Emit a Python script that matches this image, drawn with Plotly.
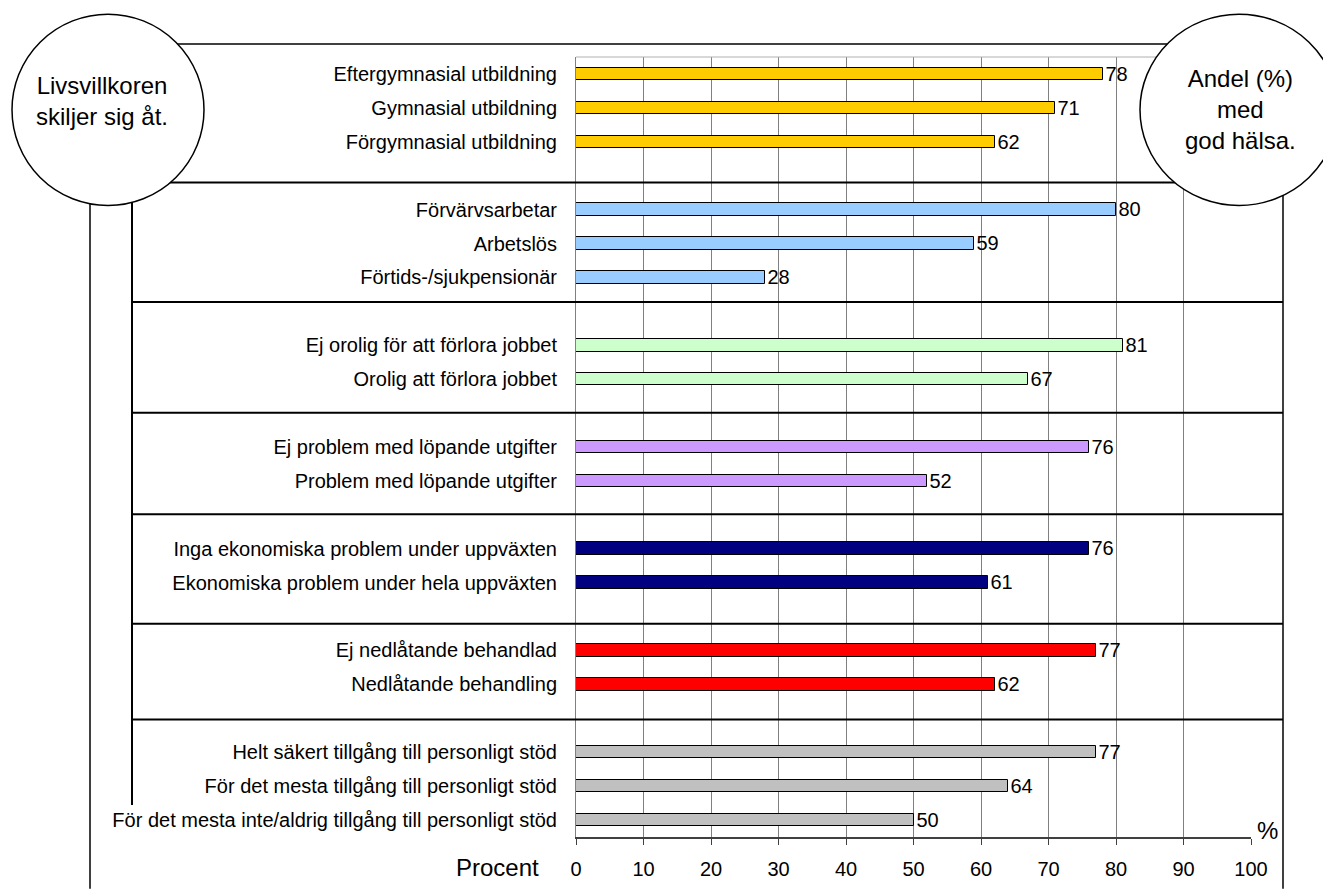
import plotly.graph_objects as go

# ---- data ----
edu_labels = ["Eftergymnasial utbildning", "Gymnasial utbildning", "Förgymnasial utbildning"]
edu_values = [78, 71, 62]
work_labels = ["Förvärvsarbetar", "Arbetslös", "Förtids-/sjukpensionär"]
work_values = [80, 59, 28]
job_labels = ["Ej orolig för att förlora jobbet", "Orolig att förlora jobbet"]
job_values = [81, 67]
cost_labels = ["Ej problem med löpande utgifter", "Problem med löpande utgifter"]
cost_values = [76, 52]
child_labels = ["Inga ekonomiska problem under uppväxten", "Ekonomiska problem under hela uppväxten"]
child_values = [76, 61]
treat_labels = ["Ej nedlåtande behandlad", "Nedlåtande behandling"]
treat_values = [77, 62]
support_labels = ["Helt säkert tillgång till personligt stöd",
                  "För det mesta tillgång till personligt stöd",
                  "För det mesta inte/aldrig tillgång till personligt stöd"]
support_values = [77, 64, 50]

x_ticks = list(range(0, 101, 10))

groups = [
    (edu_labels, edu_values, "#FFCC00"),
    (work_labels, work_values, "#99CCFF"),
    (job_labels, job_values, "#CCFFCC"),
    (cost_labels, cost_values, "#CC99FF"),
    (child_labels, child_values, "#000080"),
    (treat_labels, treat_values, "#FF0000"),
    (support_labels, support_values, "#C0C0C0"),
]

FONT = "Liberation Sans, Arial, sans-serif"
W, H = 1323, 892
ML, MR, MT, MB = 576, 72, 57, 52
PW, PH = W - ML - MR, H - MT - MB

def px(x):
    return (x - ML) / PW

def py(y):
    return (H - MB - y) / PH

fig = go.Figure()
tickvals, ticktext = [], []
pos = 0
for labels, values, color in groups:
    ys = []
    for lab in labels:
        ys.append(pos)
        tickvals.append(pos)
        ticktext.append(lab)
        pos += 1
    fig.add_trace(go.Bar(
        x=values, y=ys, orientation="h", width=0.37,
        marker=dict(color=color, line=dict(color="#000000", width=1)),
        text=[str(v) for v in values], textposition="outside", constraintext="none",
        textfont=dict(size=20, color="black", family=FONT),
        cliponaxis=False, showlegend=False, hoverinfo="x+y",
    ))
    pos += 1
last = pos - 2

shapes = []
# top border of plot area (light)
shapes.append(dict(type="line", xref="paper", yref="paper", x0=0, x1=1, y0=1, y1=1,
                   line=dict(color="#B0B0B0", width=1)))
# outer frame lines
shapes.append(dict(type="line", xref="paper", yref="paper", x0=px(110), x1=px(1240),
                   y0=py(44), y1=py(44), line=dict(color="black", width=1.5)))
shapes.append(dict(type="line", xref="paper", yref="paper", x0=px(90), x1=px(90),
                   y0=py(200), y1=py(892), line=dict(color="black", width=1.5)))
shapes.append(dict(type="line", xref="paper", yref="paper", x0=px(132), x1=px(132),
                   y0=py(200), y1=py(808), line=dict(color="black", width=2)))
shapes.append(dict(type="line", xref="paper", yref="paper", x0=px(1283), x1=px(1283),
                   y0=py(190), y1=py(892), line=dict(color="black", width=1.5)))
# group separators
sep_px = [183, 303, 414, 516, 626, 722]
for i, s in enumerate(sep_px):
    x0 = 150 if i == 0 else 132
    shapes.append(dict(type="line", xref="paper", yref="paper", x0=px(x0), x1=px(1283),
                       y0=py(s), y1=py(s), line=dict(color="black", width=2)))
# circles
shapes.append(dict(type="circle", xref="paper", yref="paper", x0=px(12), x1=px(204),
                   y0=py(206), y1=py(14), fillcolor="white",
                   line=dict(color="black", width=1.5), layer="above"))
shapes.append(dict(type="circle", xref="paper", yref="paper", x0=px(1140), x1=px(1338),
                   y0=py(206), y1=py(14), fillcolor="white",
                   line=dict(color="black", width=1.5), layer="above"))

annotations = [
    dict(xref="paper", yref="paper", x=px(102), y=py(101), text="Livsvillkoren<br>skiljer sig åt.",
         xanchor="center", yanchor="middle",
         showarrow=False, font=dict(size=24, family=FONT, color="black"), align="center"),
    dict(xref="paper", yref="paper", x=px(1240), y=py(110), text="Andel (%)<br>med<br>god hälsa.",
         xanchor="center", yanchor="middle",
         showarrow=False, font=dict(size=24, family=FONT, color="black"), align="center"),
    dict(xref="paper", yref="paper", x=px(541), y=py(871), text="Procent",
         xanchor="right", yanchor="middle",
         showarrow=False, font=dict(size=24, family=FONT, color="black")),
    dict(xref="paper", yref="paper", x=px(1255), y=py(833), text="%",
         xanchor="left", yanchor="middle",
         showarrow=False, font=dict(size=24, family=FONT, color="black")),
]

fig.update_layout(
    width=W, height=H, autosize=False,
    margin=dict(l=ML, r=MR, t=MT, b=MB, pad=0),
    plot_bgcolor="white", paper_bgcolor="white",
    font=dict(family=FONT, size=20, color="black"),
    bargap=0, shapes=shapes, annotations=annotations, showlegend=False,
)
fig.update_xaxes(
    range=[0, 100], tickvals=x_ticks, ticktext=[str(t) for t in x_ticks],
    showgrid=True, gridcolor="#808080", gridwidth=1, zeroline=False,
    showline=True, linecolor="#404040", linewidth=2,
    ticks="outside", ticklen=6, tickcolor="#404040", tickwidth=1,
    tickfont=dict(size=20, family=FONT, color="black"), ticklabelstandoff=7,
)
fig.update_yaxes(
    range=[last + 0.5, -0.5], tickvals=tickvals, ticktext=ticktext,
    showgrid=False, zeroline=False, showline=True, linecolor="#808080", linewidth=1,
    ticks="", tickfont=dict(size=20, family=FONT, color="black"), ticklabelstandoff=14,
)

fig.write_html("out.html", post_script="document.body.style.margin='0';",
               config={"displayModeBar": False})
